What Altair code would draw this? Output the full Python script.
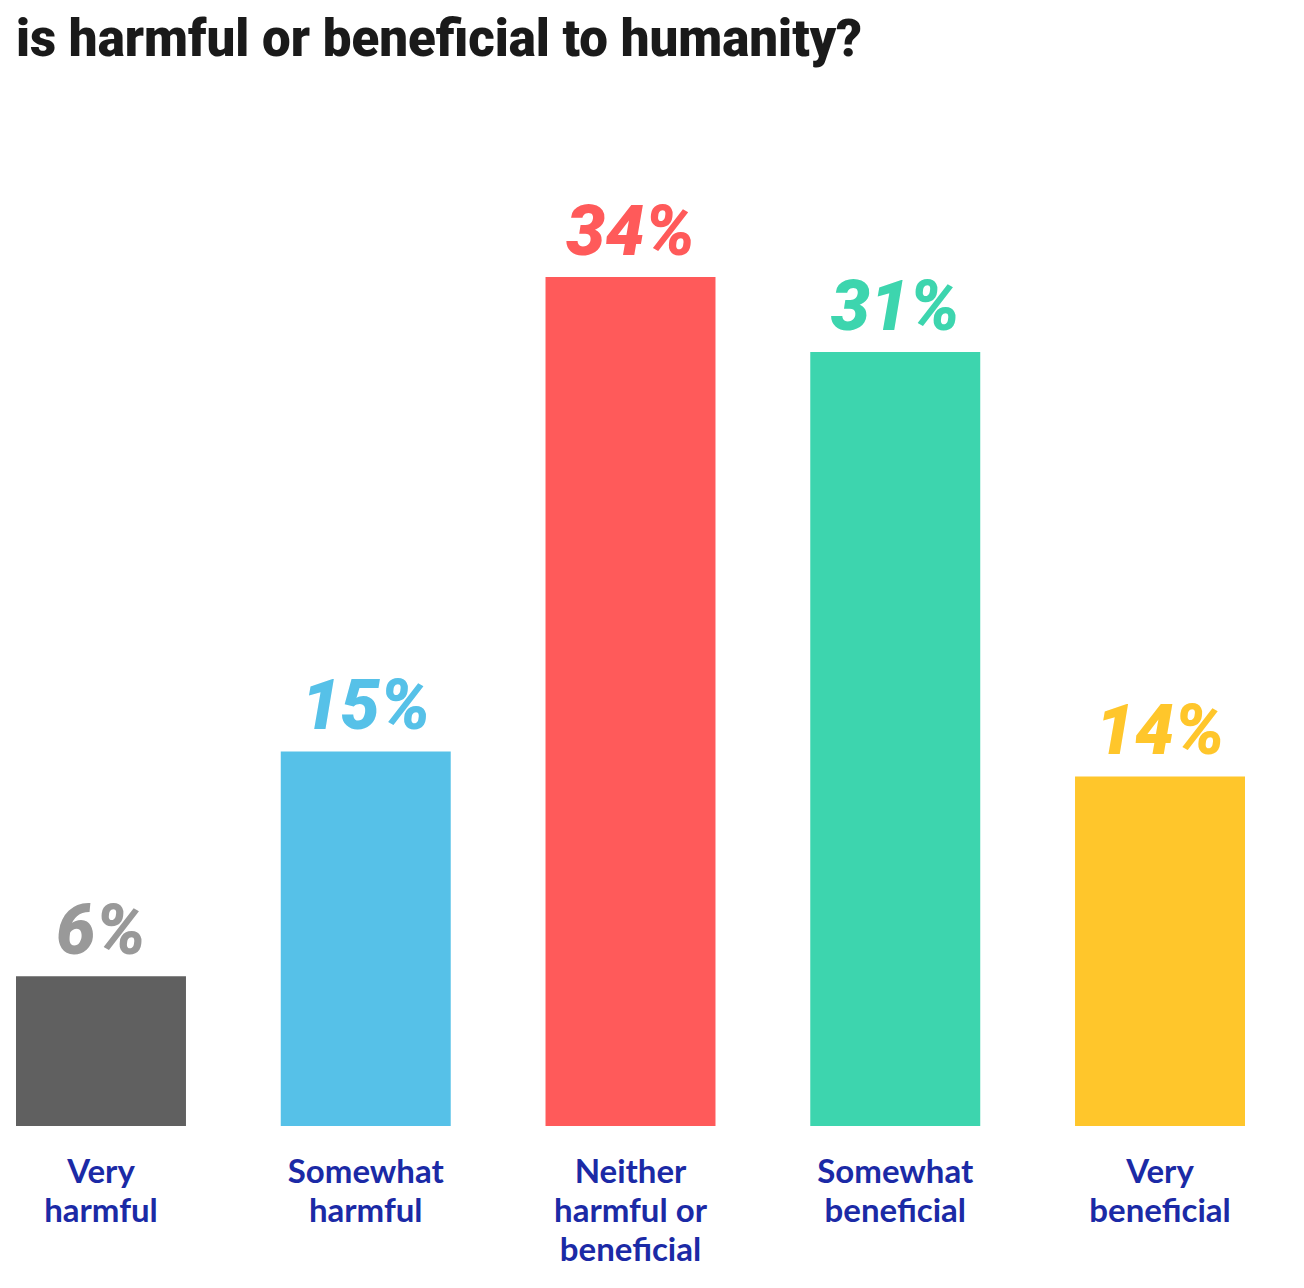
import altair as alt
import pandas as pd

categories = ["Very\nharmful", "Somewhat\nharmful", "Neither\nharmful or\nbeneficial",
              "Somewhat\nbeneficial", "Very\nbeneficial"]
values = [6, 15, 34, 31, 14]
labels = ["6%", "15%", "34%", "31%", "14%"]
bar_colors = ["#606060", "#56C1E8", "#FF5A5A", "#3DD5AE", "#FFC62B"]
label_colors = ["#999999", "#56C1E8", "#FF5A5A", "#3DD5AE", "#FFC62B"]

df = pd.DataFrame({"cat": categories, "value": values, "label": labels,
                   "bar_color": bar_colors, "label_color": label_colors})

x = alt.X("cat:N", sort=categories, title=None,
          scale=alt.Scale(paddingInner=0.358, paddingOuter=0),
          axis=alt.Axis(labelAngle=0, domain=False, ticks=False, labelPadding=30,
                        labelFont="Lato", labelFontSize=33, labelFontWeight="bold",
                        labelColor="#1B2AA6", labelLineHeight=39, labelBaseline="top",
                        labelExpr="split(datum.label, '\\n')"))
y = alt.Y("value:Q", title=None, scale=alt.Scale(domain=[0, 34], nice=False),
          axis=None)

bars = alt.Chart(df).mark_bar().encode(x=x, y=y, color=alt.Color("bar_color:N", scale=None))
text = alt.Chart(df).mark_text(font="Roboto", fontSize=70, fontWeight=900,
                               fontStyle="italic", baseline="alphabetic", dy=-22).encode(
    x=alt.X("cat:N", sort=categories), y="value:Q", text="label:N",
    color=alt.Color("label_color:N", scale=None))

chart = (bars + text).properties(
    width=1229, height=849,
    title=alt.TitleParams("is harmful or beneficial to humanity?", anchor="start",
                          font="Roboto", fontSize=51, fontWeight=900, color="#1a1a1a",
                          offset=132),
    padding={"left": 8, "top": 7, "right": 0, "bottom": 0},
).configure_view(stroke=None)

chart.save("out.html", embed_options={"renderer": "svg", "actions": False})
